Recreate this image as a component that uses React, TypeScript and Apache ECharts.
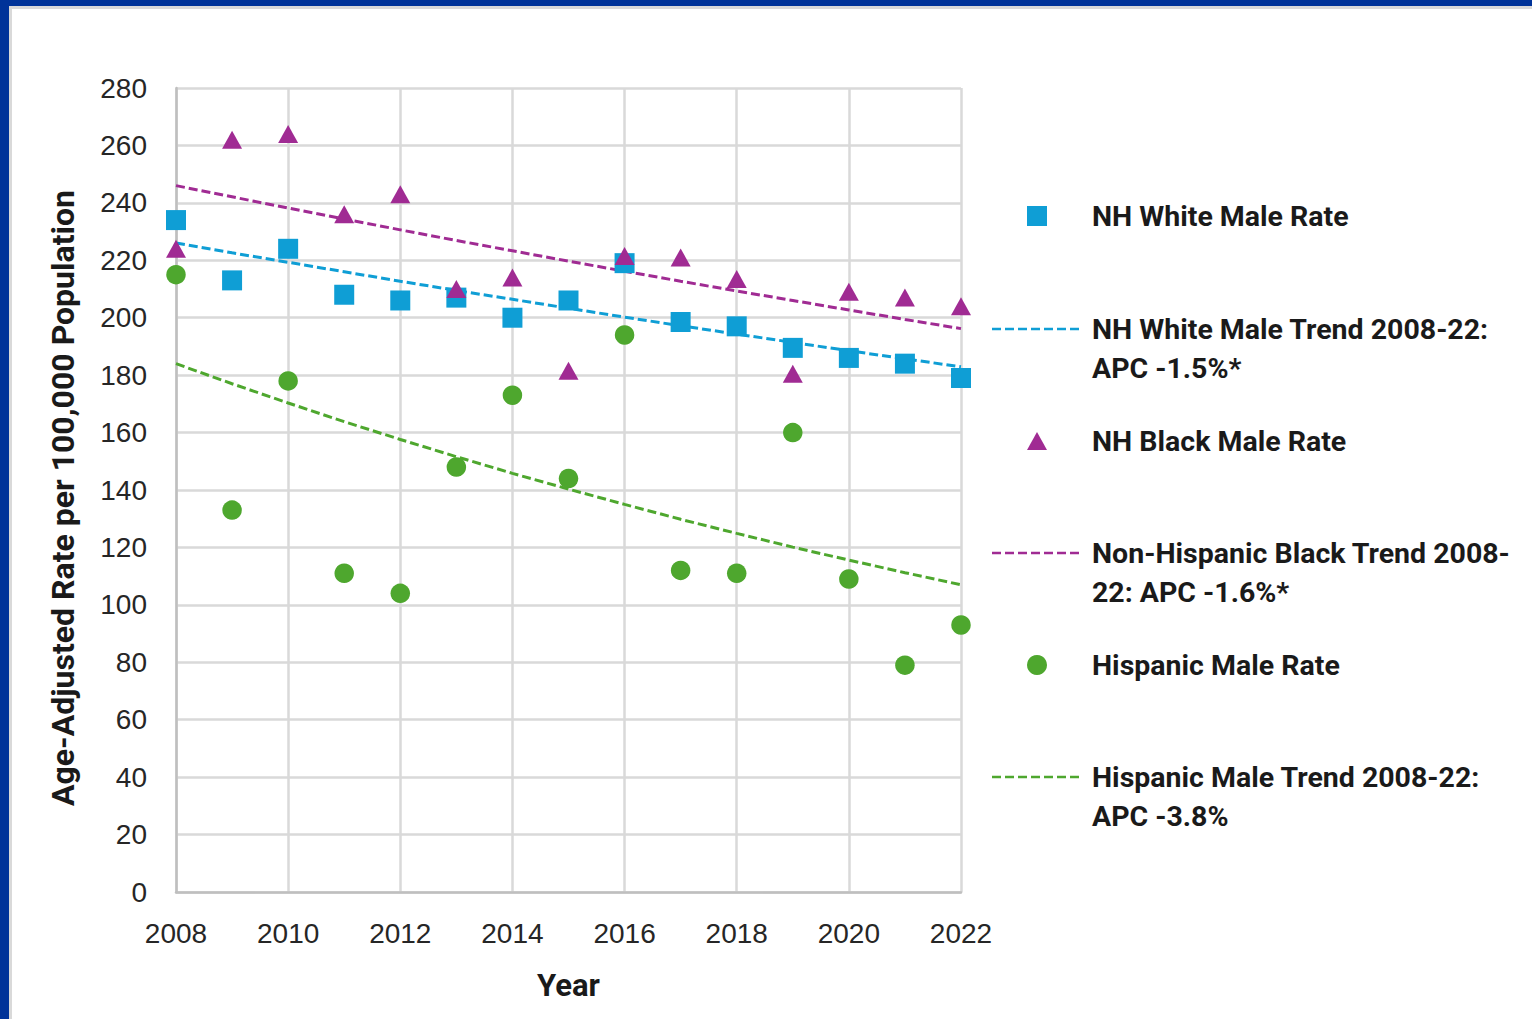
import React, { useEffect, useRef } from "react";
import * as echarts from "echarts";

const years = [2008, 2009, 2010, 2011, 2012, 2013, 2014, 2015, 2016, 2017, 2018, 2019, 2020, 2021, 2022];
const whiteRate = [234, 213, 224, 208, 206, 207, 200, 206, 219, 198.5, 197, 189.5, 186, 184, 179];
const whiteTrend = [226, 222.6, 219.3, 216, 212.7, 209.5, 206.4, 203.3, 200.2, 197.2, 194.3, 191.4, 188.5, 185.7, 182.9];
const blackRate = [224, 262, 264, 236, 243, 210, 214, 181.5, 221.5, 221, 213.5, 180.5, 209, 207, 204];
const blackTrend = [246, 242.1, 238.2, 234.4, 230.6, 226.9, 223.3, 219.7, 216.2, 212.7, 209.3, 206, 202.7, 199.4, 196.2];
const hispRate = [215, 133, 178, 111, 104, 148, 173, 144, 194, 112, 111, 160, 109, 79, 93];
const hispTrend = [184, 177, 170.3, 163.8, 157.6, 151.6, 145.8, 140.3, 135, 129.8, 124.9, 120.1, 115.6, 111.2, 107];

const legendRate = ["NH White Male Rate", "NH Black Male Rate", "Hispanic Male Rate"];
const legendTrend = [
  "NH White Male Trend 2008-22:\nAPC -1.5%*",
  "Non-Hispanic Black Trend 2008-\n22: APC -1.6%*",
  "Hispanic Male Trend 2008-22:\nAPC -3.8%",
];
const yTitle = "Age-Adjusted Rate per 100,000 Population";
const xTitle = "Year";

const BLUE = "#0F9ED5";
const PURPLE = "#A02B93";
const GREEN = "#4EA72E";
const TEXT = "#1a1a1a";
const BOLD_FONT = "Roboto";

const pairs = (ys: number[]) => years.map((y, i) => [y, ys[i]]);

export default function App() {
  const ref = useRef<HTMLDivElement>(null);
  useEffect(() => {
    document.body.style.margin = "0";
    const chart = echarts.init(ref.current!, null, { renderer: "svg" });
    const legendText = (text: string, x: number, y: number) => ({
      type: "text",
      x,
      y,
      style: {
        text,
        fill: TEXT,
        fontFamily: BOLD_FONT,
        fontWeight: "bold",
        fontSize: 28.5,
        lineHeight: 39,
        verticalAlign: "top",
      },
    });
    const dashLine = (y: number, color: string) => ({
      type: "line",
      shape: { x1: 992, y1: y, x2: 1082, y2: y },
      style: { stroke: color, lineWidth: 2.5, lineDash: [9, 4] },
    });
    const option: any = {
      animation: false,
      backgroundColor: "#ffffff",
      grid: { left: 176, top: 88, width: 785, height: 804, containLabel: false },
      xAxis: {
        type: "value",
        min: 2008,
        max: 2022,
        interval: 2,
        name: xTitle,
        nameLocation: "middle",
        nameGap: 78,
        nameTextStyle: { fontFamily: BOLD_FONT, fontWeight: "bold", fontSize: 31, color: TEXT },
        axisLine: { show: true, lineStyle: { color: "#BFBFBF", width: 2.5 } },
        axisTick: { show: false },
        axisLabel: {
          margin: 27,
          fontFamily: "Liberation Sans",
          fontSize: 28,
          color: "#262626",
          formatter: (v: number) => String(v),
        },
        splitLine: { show: true, lineStyle: { color: "#D9D9D9", width: 2.5 } },
      },
      yAxis: {
        type: "value",
        min: 0,
        max: 280,
        interval: 20,
        axisLine: { show: true, lineStyle: { color: "#BFBFBF", width: 2.5 } },
        axisTick: { show: false },
        axisLabel: { margin: 29, fontFamily: "Liberation Sans", fontSize: 28, color: "#262626" },
        splitLine: { show: true, lineStyle: { color: "#D9D9D9", width: 2.5 } },
      },
      series: [
        {
          name: "NH White Male Trend",
          type: "line",
          data: pairs(whiteTrend),
          showSymbol: false,
          lineStyle: { color: BLUE, width: 3, type: [9, 4] },
          z: 2,
        },
        {
          name: "NH Black Trend",
          type: "line",
          data: pairs(blackTrend),
          showSymbol: false,
          lineStyle: { color: PURPLE, width: 3, type: [9, 4] },
          z: 2,
        },
        {
          name: "Hispanic Male Trend",
          type: "line",
          data: pairs(hispTrend),
          showSymbol: false,
          lineStyle: { color: GREEN, width: 3, type: [9, 4] },
          z: 2,
        },
        {
          name: legendRate[0],
          type: "scatter",
          data: pairs(whiteRate),
          symbol: "rect",
          symbolSize: 20,
          itemStyle: { color: BLUE, opacity: 1 },
          z: 3,
        },
        {
          name: legendRate[1],
          type: "scatter",
          data: pairs(blackRate),
          symbol: "triangle",
          symbolSize: [20, 18],
          itemStyle: { color: PURPLE, opacity: 1 },
          z: 4,
        },
        {
          name: legendRate[2],
          type: "scatter",
          data: pairs(hispRate),
          symbol: "circle",
          symbolSize: 19.5,
          itemStyle: { color: GREEN, opacity: 1 },
          z: 3,
        },
      ],
      graphic: [
        { type: "rect", shape: { x: 0, y: 0, width: 1532, height: 6 }, style: { fill: "#003399" }, z: 100 },
        { type: "rect", shape: { x: 0, y: 6, width: 1532, height: 3 }, style: { fill: "#D9D9D9" }, z: 99 },
        { type: "rect", shape: { x: 0, y: 0, width: 9, height: 1019 }, style: { fill: "#003399" }, z: 100 },
        { type: "rect", shape: { x: 9, y: 6, width: 3, height: 1013 }, style: { fill: "#D9D9D9" }, z: 99 },
        {
          type: "text",
          x: 63,
          y: 498,
          rotation: Math.PI / 2,
          style: {
            text: yTitle,
            fill: TEXT,
            fontFamily: BOLD_FONT,
            fontWeight: "bold",
            fontSize: 32,
            align: "center",
            verticalAlign: "middle",
          },
        },
        { type: "rect", shape: { x: 1027, y: 206, width: 20, height: 20 }, style: { fill: BLUE } },
        legendText(legendRate[0], 1092, 216 - 19.5),
        dashLine(329, BLUE),
        legendText(legendTrend[0], 1092, 329 - 19.5),
        { type: "polygon", shape: { points: [[1037, 432], [1027, 450], [1047, 450]] }, style: { fill: PURPLE } },
        legendText(legendRate[1], 1092, 441 - 19.5),
        dashLine(553, PURPLE),
        legendText(legendTrend[1], 1092, 553 - 19.5),
        { type: "circle", shape: { cx: 1037, cy: 665, r: 10 }, style: { fill: GREEN } },
        legendText(legendRate[2], 1092, 665 - 19.5),
        dashLine(777, GREEN),
        legendText(legendTrend[2], 1092, 777 - 19.5),
      ],
    };
    chart.setOption(option);
    return () => chart.dispose();
  }, []);
  return <div ref={ref} style={{ width: 1532, height: 1019 }} />;
}
